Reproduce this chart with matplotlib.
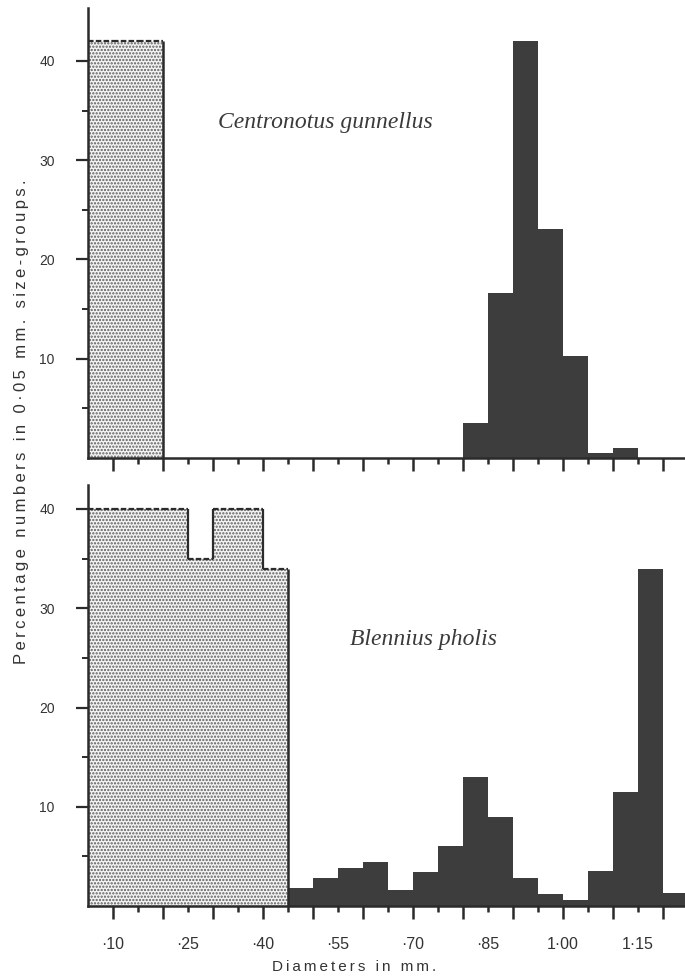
import numpy as np
import matplotlib.pyplot as plt

plt.rcParams['font.family'] = ['Liberation Sans', 'DejaVu Sans']
plt.rcParams['hatch.linewidth'] = 1.1

ink = '#2b2b2b'
bin_w = 0.05

# Centronotus gunnellus (percent per 0.05 mm size-group)
cg_stip_left = [0.05, 0.10, 0.15]
cg_stip_pct = [42, 42, 42]
cg_left = [0.80, 0.85, 0.90, 0.95, 1.00, 1.05, 1.10]
cg_pct = [3.5, 16.6, 42.0, 23.1, 10.3, 0.5, 1.0]

# Blennius pholis
bp_stip_left = [0.05, 0.10, 0.15, 0.20, 0.25, 0.30, 0.35, 0.40]
bp_stip_pct = [40, 40, 40, 40, 35, 40, 40, 34]
bp_left = [0.45, 0.50, 0.55, 0.60, 0.65, 0.70, 0.75, 0.80,
           0.85, 0.90, 0.95, 1.00, 1.05, 1.10, 1.15, 1.20]
bp_pct = [1.8, 2.8, 3.8, 4.4, 1.6, 3.4, 6.0, 13.0,
          9.0, 2.8, 1.2, 0.6, 3.5, 11.5, 34.0, 1.3]

y_ticks = [10, 20, 30, 40]
y_ticklabels = ['10', '20', '30', '40']
x_label_pos = [0.10, 0.25, 0.40, 0.55, 0.70, 0.85, 1.00, 1.15]
x_labels = ['·10', '·25', '·40', '·55', '·70', '·85', '1·00', '1·15']


def spaced(s):
    # the printed labels are letter-spaced
    return '\u2009'.join(s)


W, H = 685, 976
fig = plt.figure(figsize=(W / 100, H / 100), dpi=100)
px_per_unit = 9.925
ax_top = fig.add_axes([88 / W, 1 - 458 / H, 597 / W, 450 / H])
ax_bot = fig.add_axes([88 / W, 1 - 906 / H, 597 / W, 421 / H])


def stipple(ax, lefts, vals):
    lefts = np.array(lefts)
    vals = np.array(vals)
    ax.bar(lefts, vals, width=bin_w, align='edge', facecolor='#f4f4f4',
           edgecolor='#5c5c5c', hatch='.....', linewidth=0, zorder=2)
    # dashed tops, solid risers
    ax.hlines(vals, lefts, lefts + bin_w, colors=ink, linestyles=(0, (2.5, 1)),
              linewidth=1.6, zorder=3)
    for i in range(1, len(vals)):
        if vals[i] != vals[i - 1]:
            ax.vlines(lefts[i], min(vals[i], vals[i - 1]), max(vals[i], vals[i - 1]),
                      colors=ink, linewidth=1.6, zorder=3)
    ax.vlines(lefts[-1] + bin_w, 0, vals[-1], colors=ink, linewidth=1.8, zorder=3)


def style(ax, top_px):
    ax.set_xlim(0.05, 0.05 + 597 / 500)
    ax.set_ylim(0, top_px / px_per_unit)
    for s in ['top', 'right']:
        ax.spines[s].set_visible(False)
    for s in ['left', 'bottom']:
        ax.spines[s].set_color(ink)
        ax.spines[s].set_linewidth(1.8)
    ax.set_yticks(y_ticks, y_ticklabels)
    ax.set_yticks([5, 15, 25, 35], minor=True)
    ax.tick_params(axis='y', which='major', length=9, width=1.6, color=ink,
                   pad=15, labelsize=10, labelcolor='#333333')
    ax.tick_params(axis='y', which='minor', length=4, width=1.4, color=ink)
    major_x = np.round(np.arange(0.10, 1.21, 0.10), 2)
    minor_x = np.round(np.arange(0.15, 1.21, 0.10), 2)
    lab = dict(zip(x_label_pos, x_labels))
    ax.set_xticks(major_x, [lab.get(v, '') for v in major_x])
    ax.set_xticks(minor_x, [lab.get(v, '') for v in minor_x], minor=True)
    ax.tick_params(axis='x', which='major', length=9, width=1.8, color=ink,
                   pad=13, labelsize=11.5, labelcolor='#333333')
    ax.tick_params(axis='x', which='minor', length=4, width=1.8, color=ink,
                   pad=18, labelsize=11.5, labelcolor='#333333')


style(ax_top, 450)
style(ax_bot, 421)
ax_top.tick_params(axis='x', which='both', labelbottom=False)

stipple(ax_top, cg_stip_left, cg_stip_pct)
ax_top.bar(cg_left, cg_pct, width=bin_w, align='edge', color='#3d3d3d',
           linewidth=0, zorder=2)
stipple(ax_bot, bp_stip_left, bp_stip_pct)
ax_bot.bar(bp_left, bp_pct, width=bin_w, align='edge', color='#3d3d3d',
           linewidth=0, zorder=2)

ax_top.text(0.05 + (325 - 88) / 500, (458 - 123) / px_per_unit, 'Centronotus gunnellus',
            family='Liberation Serif', style='italic', fontsize=17, color='#3a3a3a',
            ha='center', va='center')
ax_bot.text(0.05 + (423 - 88) / 500, (906 - 640) / px_per_unit, 'Blennius pholis',
            family='Liberation Serif', style='italic', fontsize=17, color='#3a3a3a',
            ha='center', va='center')

fig.text(354 / W, 1 - 967 / H, spaced('Diameters in mm.'), fontsize=11,
         color='#333333', ha='center', va='center')
fig.text(22 / W, 1 - 422 / H, spaced('Percentage numbers in 0·05 mm. size-groups.'),
         fontsize=12, color='#333333', rotation=90, ha='center', va='center')

fig.savefig('out.png', dpi=100, facecolor='white')
